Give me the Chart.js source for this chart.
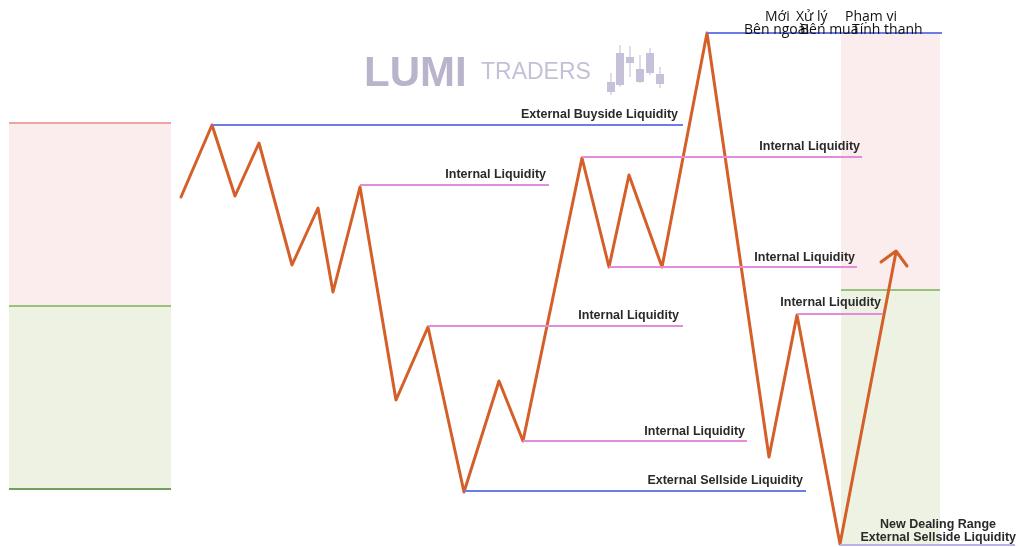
<!DOCTYPE html>
<html>
<head>
<meta charset="utf-8">
<script src="https://cdn.jsdelivr.net/npm/chart.js@4"></script>
<style>
  html, body { margin: 0; padding: 0; background: #fff; }
  canvas { display: block; }
</style>
</head>
<body>
<canvas id="liqChart" width="1019" height="547"></canvas>
<script>
// price path (x = time, y = price level, top = 0)
const pathX = [181, 212, 235, 259, 292, 318, 333, 360, 396, 428, 464, 499, 523, 582, 609, 629, 662, 707, 769, 797, 840, 896];
const pathY = [197, 125, 196, 143, 265, 208, 292, 187, 400, 327, 492, 381, 441, 158, 267, 175, 267, 33, 457, 315, 544, 252];

// arrow head at the end of the path
const arrowX = [881, 896, 907];
const arrowY = [262, 251, 266];

// liquidity levels
const levelY     = [125, 185, 157, 267, 326, 314, 441, 491, 33, 545];
const levelStart = [212, 360, 582, 609, 428, 797, 523, 464, 707, 840];
const levelEnd   = [683, 549, 862, 857, 683, 883, 747, 806, 942, 1015];
const levelKind  = ['ext', 'int', 'int', 'int', 'int', 'int', 'int', 'ext', 'ext', 'new'];

// level labels (right end x, y)
const labelText = ['External Buyside Liquidity', 'Internal Liquidity', 'Internal Liquidity', 'Internal Liquidity',
                   'Internal Liquidity', 'Internal Liquidity', 'Internal Liquidity', 'External Sellside Liquidity',
                   'New Dealing Range', 'External Sellside Liquidity'];
const labelEnd = [678, 546, 860, 855, 679, 881, 745, 803, 996, 1016];
const labelY   = [115, 175, 147, 258, 316, 303, 432, 481, 525, 538];

// dealing ranges: [x0, x1, premiumTop, equilibrium, discountBottom]
const rangeLeft  = [9, 171, 123, 306, 489];
const rangeRight = [841, 940, 34, 290, 546];

// top header words
const headWords = ['Mới', 'Xử lý', 'Phạm vi', 'Bên ngoài', 'Bên mua', 'Tính thanh'];
const headX     = [765, 796, 845, 744, 800, 852];
const headY     = [21, 21, 21, 34, 34, 34];

// watermark candles: x, wick top, wick bottom, body top, body bottom
const candleX  = [611, 620, 630, 640, 650, 660];
const wickTop  = [73, 45, 46, 55, 48, 67];
const wickBot  = [95, 87, 77, 83, 75, 88];
const bodyTop  = [82, 53, 57, 69, 53, 74];
const bodyBot  = [92, 85, 63, 82, 73, 84];

const toPts = (xs, ys) => xs.map((x, i) => ({ x: x, y: ys[i] }));

const datasets = [];
levelY.forEach((y, i) => {
  const colors = { ext: '#6b7ce6', int: '#e48bd9', new: '#b9b2ee' };
  datasets.push({
    data: [{ x: levelStart[i], y: y }, { x: levelEnd[i], y: y }],
    borderColor: colors[levelKind[i]],
    borderWidth: 2
  });
});
datasets.push({ data: toPts(pathX, pathY), borderColor: '#d55f28', borderWidth: 3, borderJoinStyle: 'round', borderCapStyle: 'round' });
datasets.push({ data: toPts(arrowX, arrowY), borderColor: '#d55f28', borderWidth: 3, borderJoinStyle: 'round', borderCapStyle: 'round' });

const backdrop = {
  id: 'backdrop',
  beforeDatasetsDraw(chart) {
    const { ctx, scales: { x, y } } = chart;
    ctx.save();
    [rangeLeft, rangeRight].forEach((r, k) => {
      const x0 = x.getPixelForValue(r[0]), x1 = x.getPixelForValue(r[1]);
      const yT = y.getPixelForValue(r[2]), yM = y.getPixelForValue(r[3]), yB = y.getPixelForValue(r[4]);
      ctx.fillStyle = '#fbeced';
      ctx.fillRect(x0, yT, x1 - x0, yM - yT);
      ctx.fillStyle = '#edf2e3';
      ctx.fillRect(x0, yM, x1 - x0, yB - yM);
      ctx.lineWidth = 2;
      if (k === 0) {
        ctx.strokeStyle = '#eea3a3';
        ctx.beginPath(); ctx.moveTo(x0, yT); ctx.lineTo(x1, yT); ctx.stroke();
        ctx.strokeStyle = '#6f9e5e';
        ctx.beginPath(); ctx.moveTo(x0, yB); ctx.lineTo(x1, yB); ctx.stroke();
      }
      ctx.strokeStyle = '#98c27a';
      ctx.beginPath(); ctx.moveTo(x0, yM); ctx.lineTo(x1, yM); ctx.stroke();
    });

    // watermark
    ctx.fillStyle = '#bab3cc';
    ctx.textBaseline = 'alphabetic';
    ctx.font = 'bold 42px "Liberation Sans", Arial, sans-serif';
    ctx.fillText('LUMI', 364, 86);
    ctx.fillStyle = '#c6c0d7';
    ctx.font = '23px "Liberation Sans", Arial, sans-serif';
    ctx.fillText('TRADERS', 481, 79);
    candleX.forEach((cx, i) => {
      const px = x.getPixelForValue(cx);
      ctx.strokeStyle = '#d6d1e2';
      ctx.lineWidth = 1.5;
      ctx.beginPath();
      ctx.moveTo(px, y.getPixelForValue(wickTop[i]));
      ctx.lineTo(px, y.getPixelForValue(wickBot[i]));
      ctx.stroke();
      ctx.fillStyle = '#c6c0d8';
      const bt = y.getPixelForValue(bodyTop[i]);
      ctx.fillRect(px - 4, bt, 8, y.getPixelForValue(bodyBot[i]) - bt);
    });
    ctx.restore();
  },
  afterDatasetsDraw(chart) {
    const { ctx, scales: { x, y } } = chart;
    ctx.save();
    ctx.fillStyle = '#2a2a2a';
    ctx.font = 'bold 12.5px "Liberation Sans", Arial, sans-serif';
    ctx.textAlign = 'right';
    ctx.textBaseline = 'middle';
    labelText.forEach((t, i) => {
      ctx.fillText(t, x.getPixelForValue(labelEnd[i]), y.getPixelForValue(labelY[i]));
    });
    ctx.fillStyle = '#111';
    ctx.font = '14px "Open Sans", "Noto Sans", sans-serif';
    ctx.textAlign = 'left';
    ctx.textBaseline = 'alphabetic';
    headWords.forEach((t, i) => {
      ctx.fillText(t, x.getPixelForValue(headX[i]), y.getPixelForValue(headY[i]));
    });
    ctx.restore();
  }
};

new Chart(document.getElementById('liqChart').getContext('2d'), {
  type: 'scatter',
  data: { datasets: datasets.map(d => Object.assign({ showLine: true, pointRadius: 0, clip: false, fill: false }, d)) },
  options: {
    responsive: false,
    animation: false,
    events: [],
    layout: { padding: 0 },
    plugins: { legend: { display: false }, tooltip: { enabled: false } },
    scales: {
      x: { type: 'linear', min: 0, max: 1019, display: false },
      y: { type: 'linear', min: 0, max: 547, reverse: true, display: false }
    }
  },
  plugins: [backdrop]
});
</script>
</body>
</html>
